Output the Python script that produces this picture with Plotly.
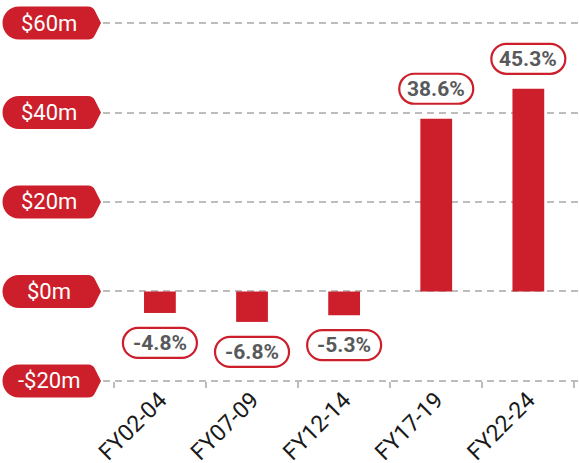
import plotly.graph_objects as go

periods = ['FY02-04', 'FY07-09', 'FY12-14', 'FY17-19', 'FY22-24']
change_m = [-4.8, -6.8, -5.3, 38.6, 45.3]
change_pct = ['-4.8%', '-6.8%', '-5.3%', '38.6%', '45.3%']
y_ticks = [-20, 0, 20, 40, 60]
y_labels = ['-$20m', '$0m', '$20m', '$40m', '$60m']

red = '#CC1F2B'
grey = '#BDBDBD'

fig = go.Figure()
fig.add_trace(go.Bar(x=periods, y=change_m, marker=dict(color=red, line=dict(width=0)),
                     width=0.345, hoverinfo='skip'))

# tag shaped pill behind each y label (pixel sized, anchored on the left plot edge)
tag = ('M -84,16.5 L -15,16.5 Q -10,16.5 -8,12 L -2,0 L -8,-12 Q -10,-16.5 -15,-16.5 '
       'L -84,-16.5 C -93.1,-16.5 -100.5,-9.1 -100.5,0 C -100.5,9.1 -93.1,16.5 -84,16.5 Z')
for v, lab in zip(y_ticks, y_labels):
    fig.add_shape(type='path', path=tag, xref='paper', yref='y',
                  xsizemode='pixel', ysizemode='pixel', xanchor=0, yanchor=v,
                  fillcolor=red, line=dict(width=0), layer='above')
    fig.add_annotation(x=0, y=v, xref='paper', yref='y', text=lab, showarrow=False,
                       xshift=-54, xanchor='center', yanchor='middle',
                       font=dict(family='Roboto', size=22, color='white'))

# outlined pill labels with the % change
for i, (v, pct) in enumerate(zip(change_m, change_pct)):
    off = 30 if v > 0 else -30
    pill = (f'M -22,{off + 15} L 22,{off + 15} C 30.3,{off + 15} 37,{off + 8.3} 37,{off} '
            f'C 37,{off - 8.3} 30.3,{off - 15} 22,{off - 15} L -22,{off - 15} '
            f'C -30.3,{off - 15} -37,{off - 8.3} -37,{off} C -37,{off + 8.3} -30.3,{off + 15} -22,{off + 15} Z')
    fig.add_shape(type='path', path=pill, xref='x', yref='y',
                  xsizemode='pixel', ysizemode='pixel', xanchor=i, yanchor=v,
                  fillcolor='white', line=dict(color=red, width=2.2), layer='above')
    fig.add_annotation(x=periods[i], y=v, text=pct, showarrow=False, yshift=off,
                       xanchor='center', yanchor='middle',
                       font=dict(family='Roboto', size=21, color='#58595B', weight='bold'))

fig.update_layout(
    template='none',
    width=579, height=463,
    margin=dict(l=103, r=0, t=0, b=63),
    plot_bgcolor='white', paper_bgcolor='white',
    showlegend=False,
)
fig.update_xaxes(type='category', range=[-0.618, 4.55], tickson='boundaries',
                 ticks='outside', ticklen=6, tickwidth=2, tickcolor=grey,
                 showgrid=False, showline=False, zeroline=False, automargin=False,
                 anchor='free', position=0.0475, tickangle=-45,
                 tickfont=dict(family='Roboto', size=23, color='#1A1A1A'))
fig.update_yaxes(range=[-24.25, 65.14], tickvals=y_ticks, showticklabels=False,
                 showgrid=True, gridcolor=grey, gridwidth=2, griddash='7px,5px',
                 zeroline=False, showline=False, automargin=False)

# drop the browser's default body margin so the figure sits at the window's corner
fig.write_html('out.html', config={'displayModeBar': False},
               post_script="document.body.style.margin='0';")
